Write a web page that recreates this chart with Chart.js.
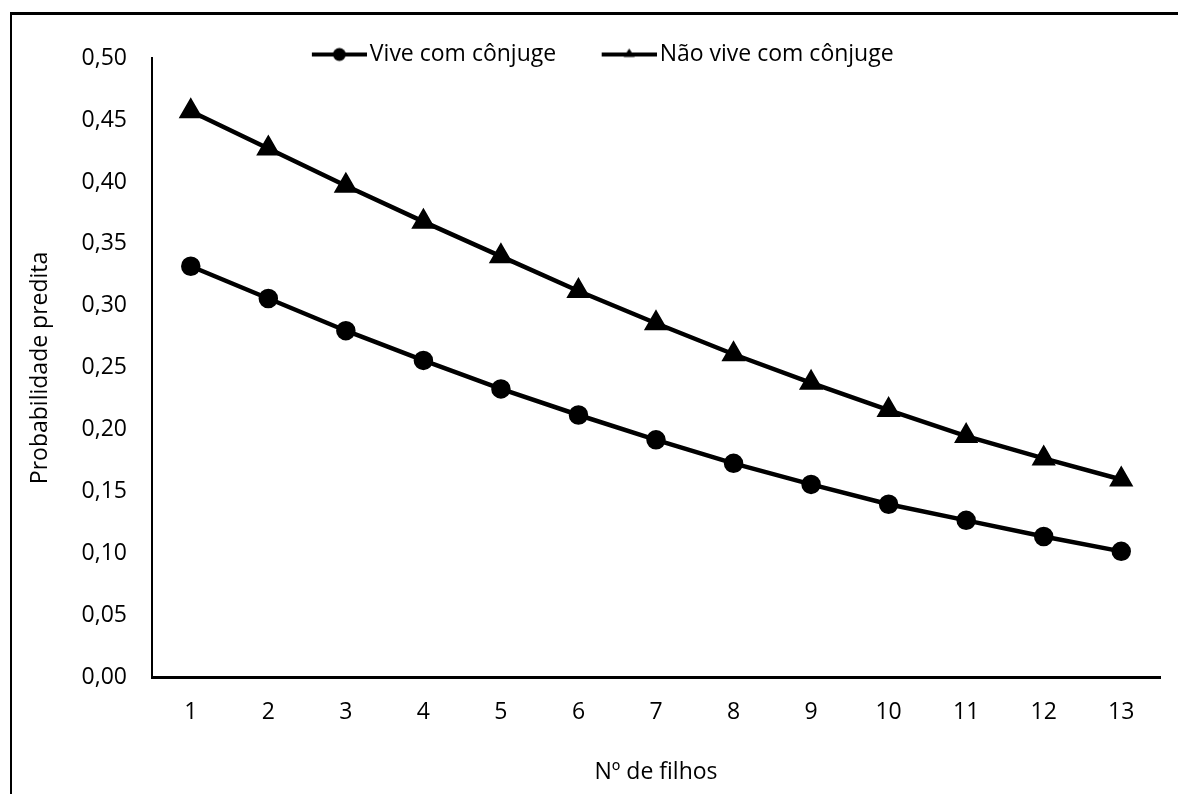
<!DOCTYPE html>
<html>
<head>
<meta charset="utf-8">
<script src="https://cdn.jsdelivr.net/npm/chart.js@4"></script>
<style>
  html, body { margin: 0; padding: 0; background: #fff; overflow: hidden; }
  #moldura { position: absolute; left: 10px; top: 12px; width: 1200px; height: 820px; border-left: 2px solid #000; border-top: 3px solid #000; }
  #caixa { position: absolute; left: 0; top: 0; width: 1178px; height: 794px; }
</style>
</head>
<body>
<div id="moldura"></div>
<div id="caixa"><canvas id="myChart"></canvas></div>
<script>
// dados
const filhos = ["1","2","3","4","5","6","7","8","9","10","11","12","13"];
const viveComConjuge = [0.332, 0.306, 0.280, 0.256, 0.233, 0.212, 0.192, 0.173, 0.156, 0.140, 0.127, 0.114, 0.102];
const naoViveComConjuge = [0.457, 0.427, 0.397, 0.368, 0.340, 0.312, 0.286, 0.261, 0.238, 0.216, 0.195, 0.177, 0.160];
const ticksY = [0, 0.05, 0.10, 0.15, 0.20, 0.25, 0.30, 0.35, 0.40, 0.45, 0.50];

const fonte = "'Open Sans', 'Noto Sans', sans-serif";

// ícone da legenda: linha com marcador, encostado à direita do canvas
// (o espaço vazio à esquerda serve de separação entre os itens)
function iconeLegenda(tipo) {
  const c = document.createElement("canvas");
  c.width = 99; c.height = 20;
  const ctx = c.getContext("2d");
  const x0 = 99 - 55;
  const meio = x0 + 27.5;
  ctx.strokeStyle = "#000";
  ctx.fillStyle = "#000";
  ctx.lineWidth = 4;
  ctx.beginPath();
  ctx.moveTo(x0, 10);
  ctx.lineTo(99, 10);
  ctx.stroke();
  ctx.beginPath();
  if (tipo == "circle") {
    ctx.arc(meio, 10, 6.5, 0, Math.PI * 2);
  } else {
    ctx.moveTo(meio, 4);
    ctx.lineTo(meio + 5.5, 12.5);
    ctx.lineTo(meio - 5.5, 12.5);
    ctx.closePath();
  }
  ctx.fill();
  return c;
}

const myChart = document.getElementById("myChart");
const datasets = [
  {
    label: "Vive com cônjuge",
    data: viveComConjuge,
    borderColor: "#000",
    backgroundColor: "#000",
    borderWidth: 4.5,
    pointStyle: "circle",
    pointRadius: 7.5,
    pointHoverRadius: 7.5,
    tension: 0,
    icone: iconeLegenda("circle"),
  },
  {
    label: "Não vive com cônjuge",
    data: naoViveComConjuge,
    borderColor: "#000",
    backgroundColor: "#000",
    borderWidth: 4.5,
    pointStyle: "triangle",
    pointRadius: 9.5,
    pointHoverRadius: 9.5,
    tension: 0,
    icone: iconeLegenda("triangle"),
  },
];

// desce a legenda até ficar quase encostada no topo do gráfico
const desceLegenda = {
  id: "desceLegenda",
  afterLayout(chart) {
    if (chart.legend) {
      chart.legend.top += 18;
      chart.legend.bottom += 18;
    }
  },
};

const config = {
  type: "line",
  data: { labels: filhos, datasets },
  plugins: [desceLegenda],
  options: {
    responsive: false,
    animation: false,
    devicePixelRatio: 1,
    layout: { padding: { left: 10, right: 18, top: 15, bottom: 4 } },
    plugins: {
      tooltip: { enabled: false },
      legend: {
        position: "top",
        align: "center",
        labels: {
          color: "#000",
          font: { family: fonte, size: 23 },
          usePointStyle: true,
          pointStyleWidth: 82,
          padding: 10,
          generateLabels: (chart) =>
            chart.data.datasets.map((ds, i) => ({
              text: ds.label,
              pointStyle: ds.icone,
              fontColor: "#000",
              strokeStyle: "#000",
              fillStyle: "#000",
              lineWidth: 0,
              datasetIndex: i,
            })),
        },
      },
    },
    scales: {
      x: {
        offset: true,
        grid: { display: false, drawTicks: false },
        border: { color: "#000", width: 3 },
        ticks: { color: "#000", font: { family: fonte, size: 23 }, padding: 21 },
        title: { display: true, text: "Nº de filhos", color: "#000", font: { family: fonte, size: 23 }, padding: { top: 11 } },
      },
      y: {
        min: 0,
        max: 0.5,
        afterBuildTicks: (axis) => { axis.ticks = ticksY.map((v) => ({ value: v })); },
        grid: { display: false, drawTicks: false },
        border: { color: "#000", width: 2 },
        ticks: {
          color: "#000",
          font: { family: fonte, size: 23 },
          padding: 25,
          callback: (v) => v.toFixed(2).replace(".", ","),
        },
        title: { display: true, text: "Probabilidade predita", color: "#000", font: { family: fonte, size: 23 }, padding: { top: 17, bottom: 2 } },
      },
    },
  },
};

myChart.width = 1178;
myChart.height = 794;
new Chart(myChart, config);
</script>
</body>
</html>
